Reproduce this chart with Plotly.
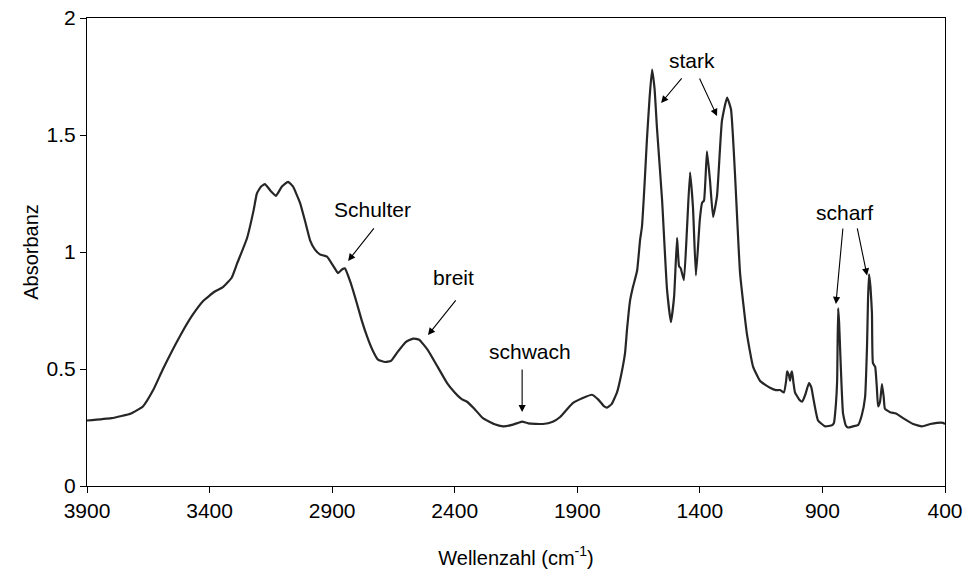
import plotly.graph_objects as go

wavenumber = [3900, 3800, 3720, 3672, 3630, 3590, 3521, 3470, 3427, 3380, 3345, 3310, 3288, 3247, 3220, 3207,
              3190, 3174, 3150, 3129, 3105, 3080, 3060, 3031, 3010, 2990, 2970, 2950, 2935, 2921, 2895, 2876,
              2860, 2848, 2825, 2799, 2780, 2758, 2735, 2713, 2684, 2660, 2635, 2600, 2570, 2545, 2509, 2470,
              2431, 2400, 2370, 2350, 2320, 2285, 2240, 2203, 2170, 2140, 2125, 2100, 2040, 2000, 1970, 1940,
              1917, 1880, 1840, 1815, 1790, 1779, 1760, 1738, 1720, 1705, 1697, 1685, 1673, 1656, 1644, 1636,
              1625, 1616, 1605, 1595, 1585, 1575, 1554, 1534, 1518, 1505, 1493, 1485, 1478, 1465, 1452, 1440,
              1428, 1416, 1400, 1391, 1383, 1371, 1359, 1346, 1330, 1310, 1289, 1273, 1257, 1236, 1208, 1183,
              1155, 1130, 1114, 1090, 1073, 1057, 1048, 1044, 1036, 1032, 1028, 1024, 1018, 1012, 995, 983,
              970, 955, 945, 938, 918, 889, 860, 853, 845, 840, 836, 832, 828, 822, 816, 805, 796, 775, 755,
              740, 726, 718, 714, 710, 704, 698, 694, 685, 678, 673, 665, 657, 650, 645, 624, 600, 571, 530,
              494, 460, 433, 408, 400]
absorbance = [0.28, 0.29, 0.31, 0.34, 0.41, 0.50, 0.64, 0.73, 0.79, 0.83, 0.85, 0.89, 0.95, 1.06, 1.18, 1.25,
              1.28, 1.29, 1.26, 1.24, 1.28, 1.30, 1.28, 1.21, 1.13, 1.05, 1.01, 0.99, 0.985, 0.98, 0.94, 0.91,
              0.925, 0.93, 0.87, 0.78, 0.71, 0.64, 0.58, 0.54, 0.53, 0.535, 0.57, 0.615, 0.63, 0.625, 0.58, 0.51,
              0.44, 0.40, 0.37, 0.36, 0.33, 0.29, 0.265, 0.255, 0.26, 0.27, 0.275, 0.268, 0.265, 0.275, 0.295, 0.33,
              0.355, 0.375, 0.39, 0.37, 0.34, 0.335, 0.35, 0.40, 0.48, 0.57, 0.67, 0.79, 0.85, 0.92, 1.05, 1.11,
              1.30, 1.48, 1.66, 1.78, 1.70, 1.53, 1.22, 0.84, 0.70, 0.81, 1.06, 0.94, 0.93, 0.88, 1.11, 1.34,
              1.19, 0.90, 1.14, 1.21, 1.22, 1.43, 1.31, 1.15, 1.24, 1.56, 1.66, 1.61, 1.34, 0.91, 0.65, 0.51,
              0.45, 0.43, 0.42, 0.41, 0.41, 0.40, 0.45, 0.49, 0.47, 0.45, 0.48, 0.49, 0.44, 0.40, 0.37, 0.36,
              0.39, 0.44, 0.42, 0.38, 0.28, 0.255, 0.26, 0.27, 0.35, 0.45, 0.76, 0.70, 0.59, 0.43, 0.31, 0.26, 0.25, 0.255, 0.26,
              0.30, 0.38, 0.60, 0.80, 0.905, 0.85, 0.74, 0.525, 0.51, 0.42, 0.34, 0.36, 0.435, 0.38, 0.33, 0.315, 0.31, 0.29, 0.265,
              0.255, 0.265, 0.27, 0.27, 0.265]

x_ticks = [3900, 3400, 2900, 2400, 1900, 1400, 900, 400]
y_ticks = [0, 0.5, 1, 1.5, 2]
y_tick_text = ["0", "0.5", "1", "1.5", "2"]

# annotation labels: (text, text position, list of (tail, head))
labels = [
    ("Schulter", (2737, 1.18), [((2725, 1.107), (2835, 0.962))]),
    ("breit", (2403, 0.89), [((2391, 0.80), (2509, 0.645))]),
    ("schwach", (2093, 0.573), [((2125, 0.504), (2125, 0.316))]),
    ("stark", (1432, 1.82), [((1469, 1.748), (1558, 1.637)), ((1404, 1.748), (1330, 1.581))]),
    ("scharf", (808, 1.17), [((816, 1.107), (845, 0.778)), ((759, 1.107), (718, 0.90))]),
]

FONT = "Liberation Sans, Arial, sans-serif"

fig = go.Figure()
fig.add_trace(go.Scatter(x=wavenumber, y=absorbance, mode="lines",
                         line=dict(color="#262626", width=2.2, shape="spline", smoothing=0.4),
                         hoverinfo="skip", showlegend=False))

annotations = []
for text, (tx, ty), arrows in labels:
    annotations.append(dict(x=tx, y=ty, xref="x", yref="y", text=text, showarrow=False,
                            font=dict(family=FONT, size=21, color="#000")))
    for (ax, ay), (hx, hy) in arrows:
        annotations.append(dict(x=hx, y=hy, ax=ax, ay=ay, xref="x", yref="y", axref="x", ayref="y",
                                text="", showarrow=True, arrowhead=2, arrowsize=1.3, arrowwidth=1.1,
                                arrowcolor="#000", standoff=0, startstandoff=0))

fig.update_layout(
    width=963, height=576,
    margin=dict(l=87, r=18, t=18, b=90),
    paper_bgcolor="white", plot_bgcolor="white",
    font=dict(family=FONT, size=21, color="#000"),
    annotations=annotations,
    xaxis=dict(range=[3900, 400], tickvals=x_ticks, ticktext=[str(v) for v in x_ticks],
               showgrid=False, zeroline=False, showline=True, linecolor="#000", linewidth=1,
               mirror=True, ticks="outside", ticklen=6, tickcolor="#000", automargin=False,
               title=dict(text="Wellenzahl (cm<sup>-1</sup>)", font=dict(size=20), standoff=29)),
    yaxis=dict(range=[0, 2], tickvals=y_ticks, ticktext=y_tick_text,
               showgrid=False, zeroline=False, showline=True, linecolor="#000", linewidth=1,
               mirror=True, ticks="outside", ticklen=6, tickcolor="#000", automargin=False,
               title=dict(text="Absorbanz", font=dict(size=20), standoff=2)),
)

fig.write_html("out.html", config={"displayModeBar": False},
               post_script="document.body.style.margin='0';document.body.style.padding='0';")
